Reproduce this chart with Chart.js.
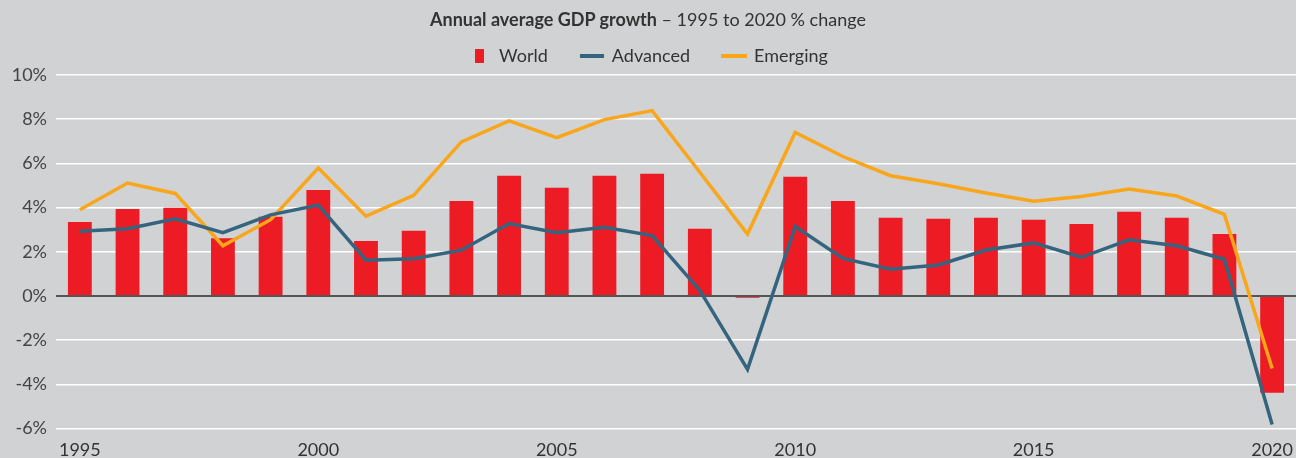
<!DOCTYPE html>
<html lang="en">
<head>
  <meta charset="UTF-8" />
  <title>Annual average GDP growth</title>
  <script src="https://cdn.jsdelivr.net/npm/chart.js"></script>
  <style>
    body { margin: 0; background: #d1d2d4; font-family: Lato, sans-serif; }
    .wrap { position: relative; width: 1296px; height: 458px; }
    .titulo { position: absolute; top: 8px; left: 0; width: 100%; text-align: center; font-size: 18px; color: #333; }
    .titulo b { font-weight: 700; }
  </style>
</head>
<body>
  <div class="wrap">
    <div class="titulo"><b>Annual average GDP growth</b> – 1995 to 2020 % change</div>
    <canvas id="grafico" width="1296" height="458"></canvas>
  </div>

  <script>
    // datos
    const anios = ['1995','1996','1997','1998','1999','2000','2001','2002','2003','2004','2005','2006','2007',
                   '2008','2009','2010','2011','2012','2013','2014','2015','2016','2017','2018','2019','2020'];
    const mundo = [3.35, 3.94, 3.99, 2.61, 3.58, 4.8, 2.49, 2.95, 4.3, 5.44, 4.9, 5.44, 5.53,
                   3.04, -0.08, 5.39, 4.3, 3.54, 3.49, 3.54, 3.45, 3.26, 3.81, 3.54, 2.8, -4.38];
    const avanzadas = [2.93, 3.04, 3.49, 2.86, 3.67, 4.11, 1.62, 1.68, 2.07, 3.28, 2.86, 3.11, 2.73,
                       0.25, -3.32, 3.14, 1.7, 1.21, 1.4, 2.08, 2.4, 1.75, 2.54, 2.27, 1.66, -5.82];
    const emergentes = [3.9, 5.11, 4.64, 2.27, 3.45, 5.79, 3.61, 4.55, 6.97, 7.92, 7.16, 7.98, 8.39,
                        5.6, 2.8, 7.4, 6.31, 5.44, 5.08, 4.66, 4.29, 4.5, 4.84, 4.52, 3.69, -3.28];
    const nombres = ['World', 'Advanced', 'Emerging'];
    const colores = ['#ed1c24', '#35647e', '#f9a61b'];

    function marcador(w, h, color) {
      const c = document.createElement('canvas');
      c.width = w; c.height = h;
      const g = c.getContext('2d');
      g.fillStyle = color;
      g.fillRect(0, 0, w, h);
      return c;
    }
    const marcadores = [marcador(9, 14, colores[0]), marcador(24, 4, colores[1]), marcador(26, 4, colores[2])];

    const fuente = { family: 'Lato, sans-serif', size: 18 };

    new Chart(document.getElementById('grafico'), {
      data: {
        labels: anios,
        datasets: [
          { type: 'bar', label: nombres[0], data: mundo, backgroundColor: colores[0],
            barPercentage: 0.5, categoryPercentage: 1, order: 3 },
          { type: 'line', label: nombres[1], data: avanzadas, borderColor: colores[1], borderWidth: 3.5,
            pointRadius: 0, tension: 0, order: 1 },
          { type: 'line', label: nombres[2], data: emergentes, borderColor: colores[2], borderWidth: 3.5,
            pointRadius: 0, tension: 0, order: 2 }
        ]
      },
      options: {
        responsive: false,
        animation: false,
        layout: { padding: { top: 14 } },
        plugins: {
          tooltip: { enabled: false },
          legend: {
            position: 'top',
            labels: {
              font: fuente,
              color: '#333',
              usePointStyle: true,
              pointStyleWidth: 22,
              boxHeight: 14,
              padding: 33,
              generateLabels: (chart) => {
                const items = Chart.defaults.plugins.legend.labels.generateLabels(chart);
                items.forEach(it => { it.pointStyle = marcadores[it.datasetIndex]; });
                items.sort((a, b) => a.datasetIndex - b.datasetIndex);
                return items;
              }
            }
          }
        },
        scales: {
          x: {
            grid: { display: false },
            border: { display: false },
            ticks: {
              autoSkip: false,
              maxRotation: 0,
              font: fuente,
              color: '#333',
              padding: 3,
              callback: function (v, i) { const a = anios[i]; return (+a % 5 === 0) ? a : ''; }
            },
            afterFit: (s) => { s.height = 29.5; }
          },
          y: {
            min: -6,
            max: 10,
            border: { display: false },
            grid: {
              drawTicks: false,
              color: (c) => c.tick && c.tick.value === 0 ? '#555' : '#ffffff',
              lineWidth: (c) => c.tick && c.tick.value === 0 ? 2 : 1.5
            },
            ticks: {
              stepSize: 2,
              padding: 9,
              font: fuente,
              color: '#444',
              callback: (v) => v + '%'
            },
            afterFit: (s) => { s.width = 56; }
          }
        }
      }
    });
  </script>
</body>
</html>
